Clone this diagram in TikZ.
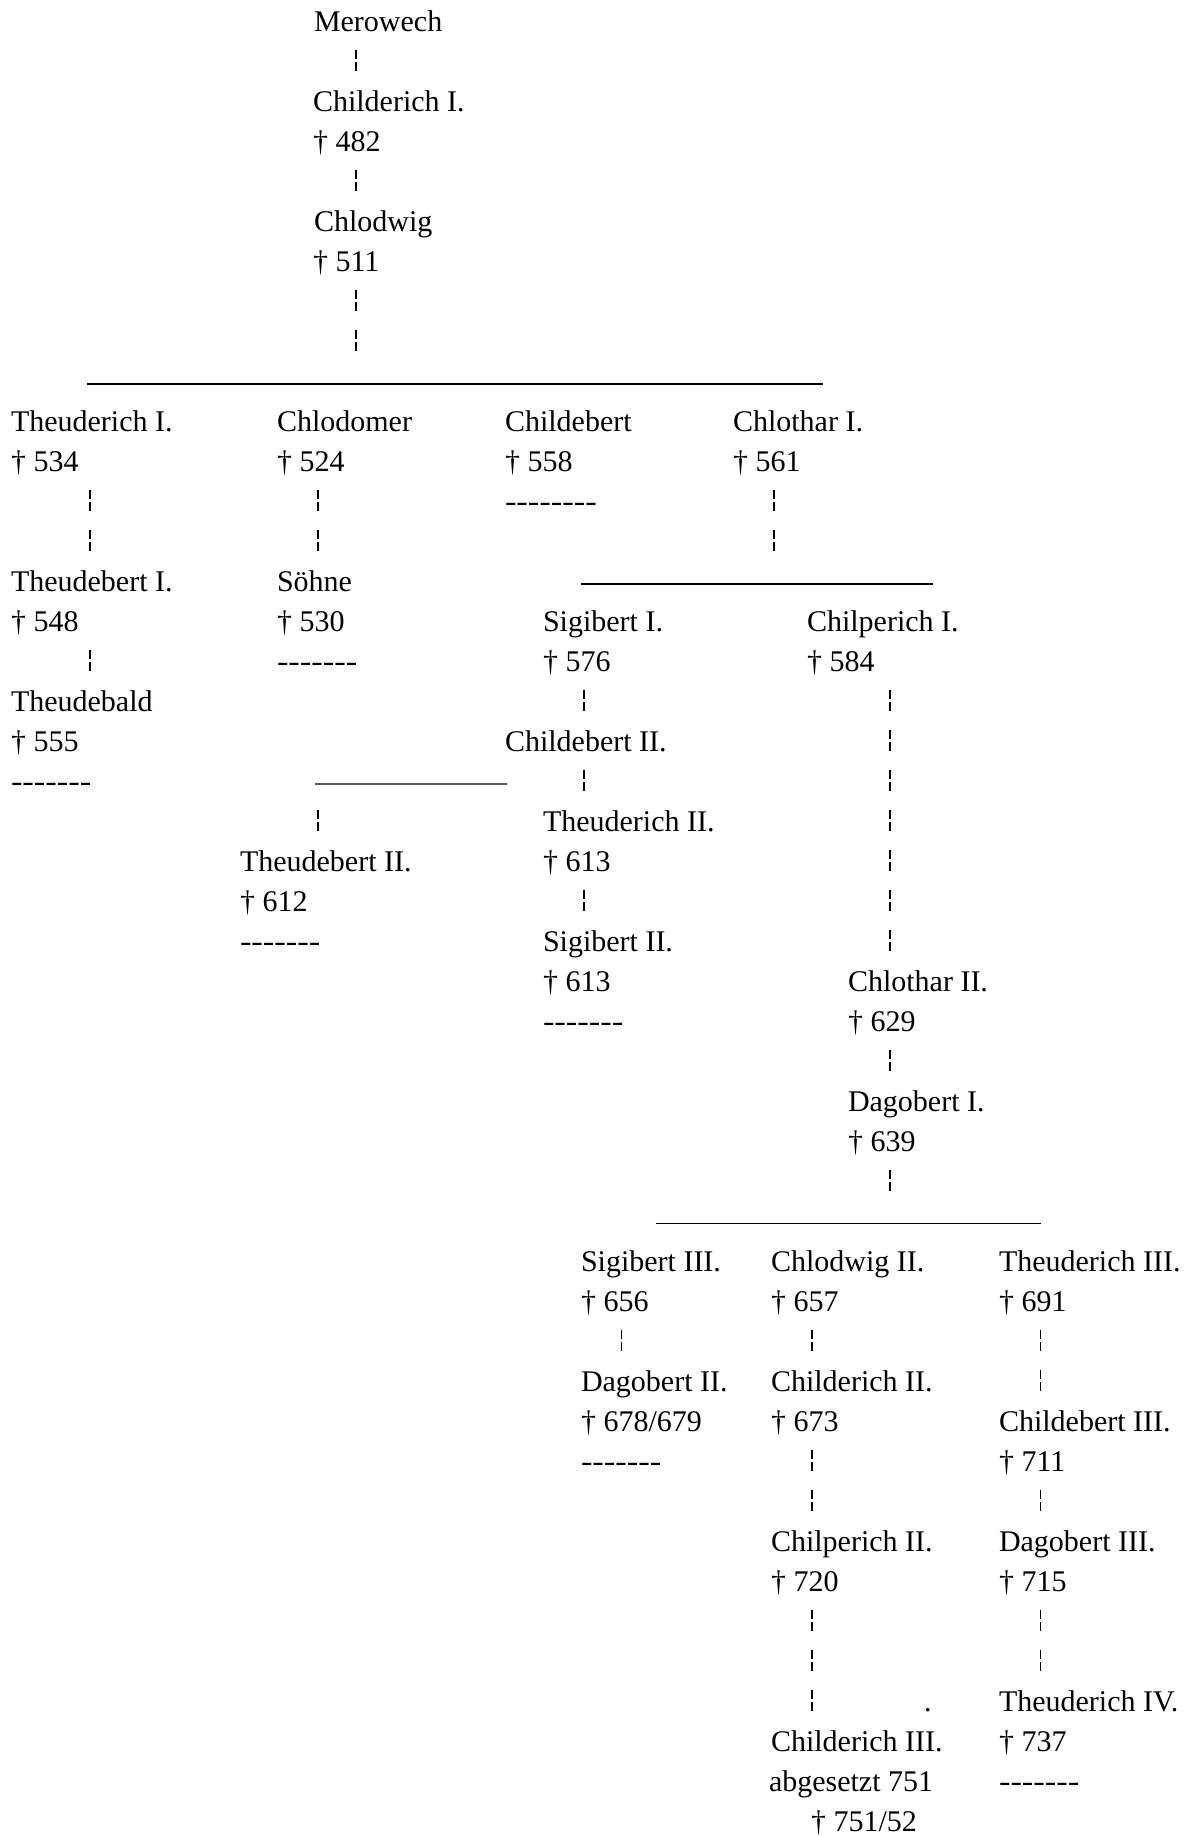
\documentclass[tikz,border=0pt]{standalone}
\usepackage{fontspec}
\setmainfont{Liberation Serif}
\usepackage{graphicx}
\usetikzlibrary{calc}
\newcommand{\sevendash}{\scalebox{1.15}[1]{-\kern0pt-\kern0pt-\kern0pt-\kern0pt-\kern0pt-\kern0pt-}}
\newcommand{\eightdash}{\scalebox{1.15}[1]{-\kern0pt-\kern0pt-\kern0pt-\kern0pt-\kern0pt-\kern0pt-\kern0pt-}}
\begin{document}
\begin{tikzpicture}[x=1bp,y=-1bp,
  person/.style={anchor=base west,inner sep=0pt,outer sep=0pt,font=\fontsize{30bp}{40bp}\selectfont},
  brk/.style={line width=1.2bp,dash pattern=on 9bp off 3bp on 9bp off 19bp},
  bar/.style={line width=1.2bp}]
\fill[white] (0,0) rectangle (1188,1836);
\useasboundingbox (0,0) rectangle (1188,1836);

% --- top line of descent
\node[person] (mer)  at (314,31.7)  {Merowech};
\node[person] (chi1) at (313,111.7) {Childerich I.};
\node[person] (chi1d) at (313,151.7) {† 482};
\node[person] (chl)  at (314,231.7) {Chlodwig};
\node[person] (chld) at (313,271.7) {† 511};

% --- sons of Chlodwig
\node[person] (the1)  at (11,431.7)  {Theuderich I.};
\node[person] (the1d) at (11,471.7)  {† 534};
\node[person] (chm)   at (277,431.7) {Chlodomer};
\node[person] (chmd)  at (277,471.7) {† 524};
\node[person] (cb)    at (505,431.7) {Childebert};
\node[person] (cbd)   at (505,471.7) {† 558};
\node[person] (cbe)   at (505,511.7) {\eightdash};
\node[person] (clo1)  at (733,431.7) {Chlothar I.};
\node[person] (clo1d) at (733,471.7) {† 561};

\node[person] (tb1)   at (11,591.7)  {Theudebert I.};
\node[person] (tb1d)  at (11,631.7)  {† 548};
\node[person] (soe)   at (277,591.7) {Söhne};
\node[person] (soed)  at (277,631.7) {† 530};
\node[person] (soee)  at (277,671.7) {\sevendash};
\node[person] (tbald) at (11,711.7)  {Theudebald};
\node[person] (tbaldd) at (11,751.7) {† 555};
\node[person] (tbalde) at (11,791.7) {\sevendash};

\node[person] (sig1)  at (543,631.7) {Sigibert I.};
\node[person] (sig1d) at (543,671.7) {† 576};
\node[person] (chp1)  at (807,631.7) {Chilperich I.};
\node[person] (chp1d) at (807,671.7) {† 584};

\node[person] (cb2)   at (505,751.7) {Childebert II.};
\node[person] (the2)  at (543,831.7) {Theuderich II.};
\node[person] (the2d) at (543,871.7) {† 613};
\node[person] (tb2)   at (240,871.7) {Theudebert II.};
\node[person] (tb2d)  at (240,911.7) {† 612};
\node[person] (tb2e)  at (240,951.7) {\sevendash};
\node[person] (sig2)  at (543,951.7) {Sigibert II.};
\node[person] (sig2d) at (543,991.7) {† 613};
\node[person] (sig2e) at (543,1031.7) {\sevendash};

\node[person] (clo2)  at (848,991.7)  {Chlothar II.};
\node[person] (clo2d) at (848,1031.7) {† 629};
\node[person] (dag1)  at (848,1111.7) {Dagobert I.};
\node[person] (dag1d) at (848,1151.7) {† 639};

\node[person] (sig3)  at (581,1271.7) {Sigibert III.};
\node[person] (sig3d) at (581,1311.7) {† 656};
\node[person] (chl2)  at (771,1271.7) {Chlodwig II.};
\node[person] (chl2d) at (771,1311.7) {† 657};
\node[person] (the3)  at (999,1271.7) {Theuderich III.};
\node[person] (the3d) at (999,1311.7) {† 691};

\node[person] (dag2)  at (581,1391.7) {Dagobert II.};
\node[person] (dag2d) at (581,1431.7) {† 678/679};
\node[person] (dag2e) at (581,1471.7) {\sevendash};
\node[person] (chi2)  at (771,1391.7) {Childerich II.};
\node[person] (chi2d) at (771,1431.7) {† 673};
\node[person] (cb3)   at (999,1431.7) {Childebert III.};
\node[person] (cb3d)  at (999,1471.7) {† 711};

\node[person] (chp2)  at (771,1551.7) {Chilperich II.};
\node[person] (chp2d) at (771,1591.7) {† 720};
\node[person] (dag3)  at (999,1551.7) {Dagobert III.};
\node[person] (dag3d) at (999,1591.7) {† 715};

\node[person] (dot)   at (924,1711.7) {.};
\node[person] (the4)  at (999,1711.7) {Theuderich IV.};
\node[person] (the4d) at (999,1751.7) {† 737};
\node[person] (the4e) at (999,1791.7) {\sevendash};
\node[person] (chi3)  at (771,1751.7) {Childerich III.};
\node[person] (chi3a) at (769,1791.7) {abgesetzt 751};
\node[person] (chi3d) at (811,1831.7) {† 751/52};

% --- vertical connectors
\draw[brk] ($(mer.base west)+(42,18)$) -- ($(chi1.base west)+(43,-41)$);
\draw[brk] ($(chi1d.base west)+(43,18)$) -- ($(chl.base west)+(42,-41)$);
\draw[brk] ($(chld.base west)+(43,18)$) -- ($(chld.base west)+(43,79)$);
\draw[brk] ($(the1d.base west)+(79,18)$) -- ($(tb1.base west)+(79,-41)$);
\draw[brk] ($(chmd.base west)+(41,18)$) -- ($(soe.base west)+(41,-41)$);
\draw[brk] ($(clo1d.base west)+(41,18)$) -- ($(clo1d.base west)+(41,79)$);
\draw[brk] ($(tb1d.base west)+(79,18)$) -- ($(tbald.base west)+(79,-41)$);
\draw[brk] ($(sig1d.base west)+(41,18)$) -- ($(cb2.base west)+(79,-41)$);
\draw[brk] ($(cb2.base west)+(79,18)$) -- ($(the2.base west)+(41,-41)$);
\draw[brk] ($(tb2.base west)+(78,-62)$) -- ($(tb2.base west)+(78,-41)$);
\draw[brk] ($(the2d.base west)+(41,18)$) -- ($(sig2.base west)+(41,-41)$);
\draw[brk] ($(chp1d.base west)+(83,18)$) -- ($(clo2.base west)+(42,-41)$);
\draw[brk] ($(clo2d.base west)+(42,18)$) -- ($(dag1.base west)+(42,-41)$);
\draw[brk] ($(dag1d.base west)+(42,18)$) -- ($(dag1d.base west)+(42,39)$);
\draw[brk] ($(sig3d.base west)+(40.5,18)$) -- ($(dag2.base west)+(40.5,-41)$);
\draw[brk] ($(chl2d.base west)+(41,18)$) -- ($(chi2.base west)+(41,-41)$);
\draw[brk] ($(the3d.base west)+(41.5,18)$) -- ($(cb3.base west)+(41.5,-41)$);
\draw[brk] ($(chi2d.base west)+(41,18)$) -- ($(chp2.base west)+(41,-41)$);
\draw[brk] ($(cb3d.base west)+(41.5,18)$) -- ($(dag3.base west)+(41.5,-41)$);
\draw[brk] ($(chp2d.base west)+(41,18)$) -- ($(chi3.base west)+(41,-41)$);
\draw[brk] ($(dag3d.base west)+(41.5,18)$) -- ($(the4.base west)+(41.5,-41)$);

% --- horizontal sibling lines
\draw[bar] ($(the1.base west)+(76,-47.7)$) -- ($(clo1.base west)+(90,-47.7)$);
\draw[bar] ($(sig1.base west)+(38,-47.7)$) -- ($(chp1.base west)+(126,-47.7)$);
\draw[bar] ($(tb2.base west)+(75,-87.7)$) -- ($(cb2.base west)+(2,32.3)$);
\draw[bar] ($(sig3.base west)+(75,-48)$) -- ($(the3.base west)+(41.5,-48)$);
\end{tikzpicture}
\end{document}
